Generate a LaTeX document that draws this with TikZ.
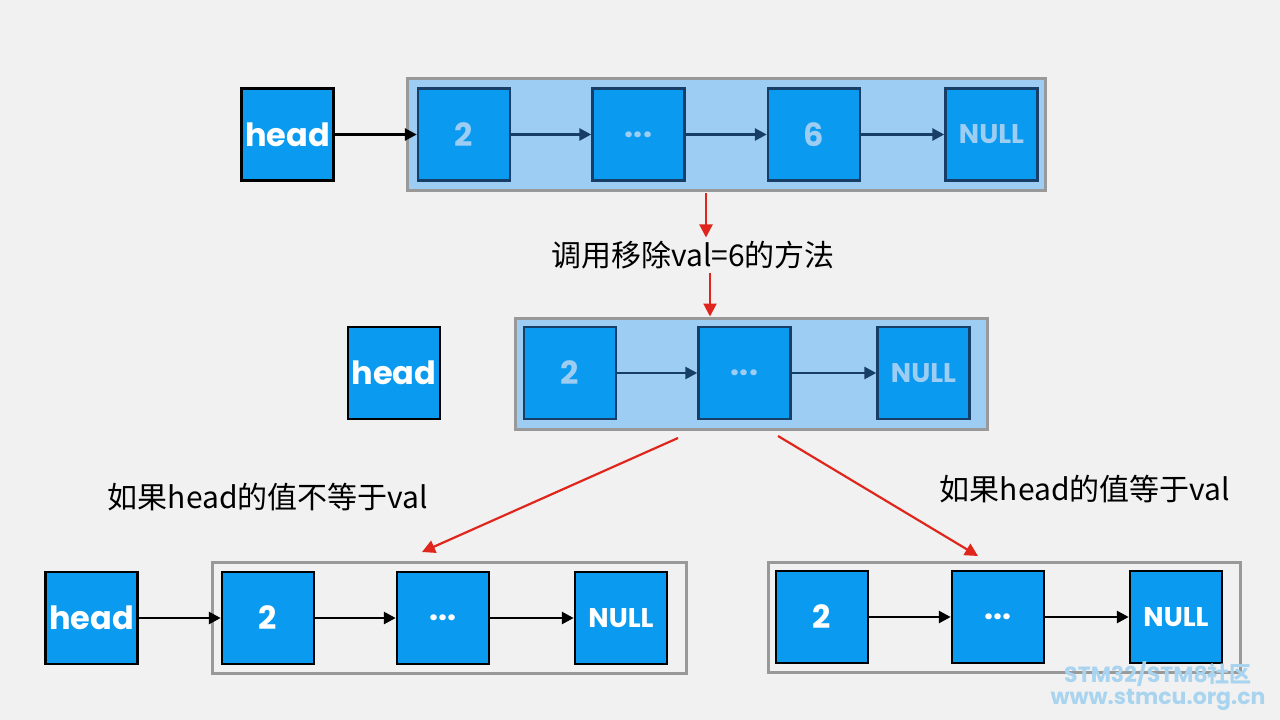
\documentclass[tikz,border=0pt]{standalone}
\usepackage{fontspec}
\setmainfont{Poppins}
\newfontfamily\cjk{Noto Sans CJK SC}
\usetikzlibrary{arrows.meta}
\definecolor{nodeblue}{HTML}{0A9BF0}
\definecolor{navy}{HTML}{163E66}
\definecolor{lightov}{HTML}{9DCDF3}
\definecolor{bgc}{HTML}{F1F1F1}
\definecolor{wm}{HTML}{A9D4F0}
\definecolor{redc}{HTML}{E0261C}
\begin{document}
\begin{tikzpicture}[x=1pt,y=-1pt,
  nd/.style={draw=black,line width=2.5pt,fill=nodeblue,text=white,minimum width=92pt,minimum height=92pt,inner sep=0pt,font=\fontsize{32}{32}\bfseries\selectfont},
  ndo/.style={nd,draw=navy,text=lightov},
  nl/.style={font=\fontsize{27}{27}\bfseries\selectfont},
  ct/.style={draw=gray!80,line width=3pt,inner sep=0pt},
  cto/.style={ct,fill=lightov},
  ar/.style={-{Triangle[length=12pt,width=12pt]},line width=2.8pt,black},
  aro/.style={ar,navy},
  red/.style={-{Triangle[length=13pt,width=13pt]},line width=2.2pt,redc},
  lab/.style={font=\cjk\fontsize{30}{30}\selectfont,text=black},
  wmk/.style={font=\fontsize{22}{22}\bfseries\selectfont,text=wm,inner sep=0pt}]
\fill[bgc] (0,0) rectangle (1280,720);
\useasboundingbox (0,0) rectangle (1280,720);
% top
\node[cto,minimum width=638pt,minimum height=112pt] (c1) at (726,134) {};
\node[nd] (h1) at (287.5,134.5) {head};
\node[ndo] (a1) at (464,134.5) {2};
\node[ndo] (b1) at (638.5,134.5) {...};
\node[ndo] (d1) at (814,134.5) {6};
\node[ndo,nl] (n1) at (991.5,134.5) {NULL};
\draw[ar] (h1) -- (a1);
\draw[aro] (a1) -- (b1);
\draw[aro] (b1) -- (d1);
\draw[aro] (d1) -- (n1);
% middle
\node[lab] (t1) at (693,255) {调用移除val=6的方法};
\coordinate (r1) at (706,193);
\draw[red] (r1) -- (t1.north -| r1);
\node[cto,minimum width=472pt,minimum height=111pt] (c2) at (751,373.5) {};
\draw[red] (t1.south -| c2.north) ++(-41,0) coordinate (r2) -- (r2 |- c2.north);
\node[nd] (h2) at (394,373) {head};
\node[ndo] (a2) at (570,373) {2};
\node[ndo] (b2) at (744.5,373) {...};
\node[ndo,nl] (n2) at (923.5,373) {NULL};
\draw[aro] (a2) -- (b2);
\draw[aro] (b2) -- (n2);
% bottom left
\node[ct,minimum width=474pt,minimum height=111pt] (c3) at (449,617.5) {};
\node[nd] (h3) at (91.5,618) {head};
\node[nd] (a3) at (268,618) {2};
\node[nd] (b3) at (443,618) {...};
\node[nd,nl] (n3) at (621,618) {NULL};
\draw[ar] (h3) -- (a3);
\draw[ar] (a3) -- (b3);
\draw[ar] (b3) -- (n3);
% bottom right
\node[ct,minimum width=472pt,minimum height=110pt] (c4) at (1004,617) {};
\node[nd] (a4) at (822,617) {2};
\node[nd] (b4) at (998,617) {...};
\node[nd,nl] (n4) at (1176,617) {NULL};
\draw[ar] (a4) -- (b4);
\draw[ar] (b4) -- (n4);
% red arrows
\coordinate (s1) at (678,438); \coordinate (e1) at (422,552);
\coordinate (s2) at (778,436); \coordinate (e2) at (978,556);
\draw[red] (s1) -- (e1);
\draw[red] (s2) -- (e2);
\node[lab] (t2) at (268,497) {如果head的值不等于val};
\node[lab] (t3) at (1085,489) {如果head的值等于val};
% watermark
\node[wmk] (w1) at (1158,674) {STM32/STM8{\cjk\bfseries 社区}};
\node[wmk] (w2) at (1158,700) {www.stmcu.org.cn};
\end{tikzpicture}
\end{document}
